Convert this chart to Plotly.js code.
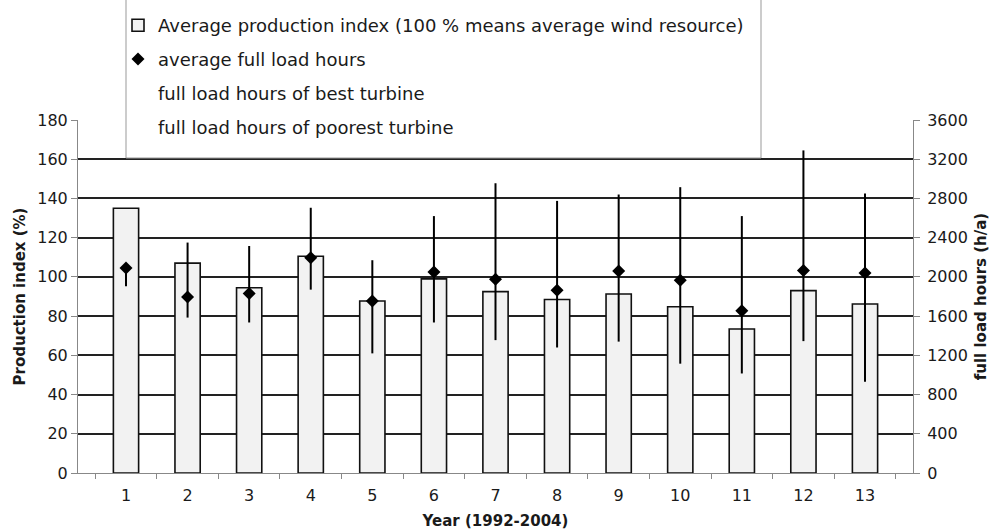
<!DOCTYPE html>
<html>
<head>
<meta charset="utf-8">
<script src="https://cdn.plot.ly/plotly-3.0.1.min.js"></script>
<style>html,body{margin:0;padding:0;background:#fff;}#chart{width:994px;height:530px;}</style>
</head>
<body>
<div id="chart"></div>
<script>
// Years 1..13 (1992-2004)
var years = ['1','2','3','4','5','6','7','8','9','10','11','12','13'];
// Average production index (%)
var productionIndex = [135, 107, 94.5, 110.5, 87.7, 99, 92.5, 88.5, 91.3, 84.8, 73.4, 93, 86.2];
// Average full load hours (h/a)
var avgFullLoad = [2090, 1795, 1830, 2195, 1755, 2050, 1975, 1865, 2060, 1965, 1655, 2065, 2040];
// Full load hours of best turbine (h/a)
var bestTurbine = [2130, 2350, 2315, 2705, 2170, 2620, 2955, 2775, 2840, 2915, 2620, 3290, 2850];
// Full load hours of poorest turbine (h/a)
var poorestTurbine = [1905, 1585, 1535, 1870, 1220, 1535, 1355, 1280, 1340, 1115, 1015, 1345, 930];

var errPlus = bestTurbine.map(function(b, i){ return b - avgFullLoad[i]; });
var errMinus = poorestTurbine.map(function(p, i){ return avgFullLoad[i] - p; });

var FONT = 'DejaVu Sans, Liberation Sans, Arial, sans-serif';
var TXT = '#1a1a1a';

var traces = [
  {
    type: 'bar', x: years, y: productionIndex, width: 0.41,
    name: 'Average production index (100 % means average wind resource)',
    legendgroup: 'g1',
    marker: {color: '#f2f2f2', line: {color: '#111', width: 1.6}}
  },
  {
    type: 'scatter', mode: 'markers', x: years, y: avgFullLoad, yaxis: 'y2',
    name: 'average full load hours', legendgroup: 'g2',
    marker: {symbol: 'diamond', size: 10, color: '#000'},
    error_y: {type: 'data', symmetric: false, array: errPlus, arrayminus: errMinus,
              color: '#000', thickness: 2, width: 0}
  },
  {
    type: 'scatter', mode: 'markers', x: years, y: bestTurbine, yaxis: 'y2',
    name: 'full load hours of best turbine', legendgroup: 'g3',
    marker: {size: 1, color: 'rgba(0,0,0,0)'}
  },
  {
    type: 'scatter', mode: 'markers', x: years, y: poorestTurbine, yaxis: 'y2',
    name: 'full load hours of poorest turbine', legendgroup: 'g4',
    marker: {size: 1, color: 'rgba(0,0,0,0)'}
  }
];

var plotL = 78, plotR = 913, plotT = 120, plotB = 473;
function px(x){ return (x - plotL) / (plotR - plotL); }
function py(y){ return (plotB - y) / (plotB - plotT); }

var layout = {
  width: 994, height: 530,
  margin: {l: 78, r: 81, t: 120, b: 57, pad: 0, autoexpand: false},
  paper_bgcolor: '#fff', plot_bgcolor: '#fff',
  font: {family: FONT, color: TXT, size: 16},
  hovermode: false,
  xaxis: {
    type: 'category', tickson: 'boundaries', ticks: 'outside', ticklen: 5,
    tickcolor: '#888', showline: true, linecolor: '#888', linewidth: 1,
    showgrid: false, zeroline: false, ticklabelstandoff: 8,
    tickfont: {family: FONT, size: 16, color: TXT},
    title: {text: '<b>Year (1992-2004)</b>', font: {family: FONT, size: 15, color: TXT}, standoff: 12}
  },
  yaxis: {
    range: [0, 180], dtick: 20, tick0: 0, showgrid: true, gridcolor: '#222', gridwidth: 2,
    showline: true, linecolor: '#888', linewidth: 1, ticks: 'outside', ticklen: 6, tickcolor: '#888',
    zeroline: false, tickfont: {family: FONT, size: 16, color: TXT},
    title: {text: '<b>Production index (%)</b>', font: {family: FONT, size: 15, color: TXT}, standoff: 8}
  },
  yaxis2: {
    overlaying: 'y', side: 'right', range: [0, 3600], dtick: 400, tick0: 0,
    showgrid: false, showline: true, linecolor: '#888', linewidth: 1, ticks: 'outside', ticklen: 6,
    tickcolor: '#888', zeroline: false, ticklabelstandoff: 4,
    tickfont: {family: FONT, size: 16, color: TXT},
    title: {text: '<b>full load hours (h/a)</b>', font: {family: FONT, size: 15, color: TXT}, standoff: 8}
  },
  legend: {
    x: px(118), y: py(7), xanchor: 'left', yanchor: 'top',
    bgcolor: 'rgba(0,0,0,0)', borderwidth: 0,
    font: {family: FONT, size: 18, color: TXT},
    tracegroupgap: 7.5, itemwidth: 30
  },
  shapes: [{
    type: 'rect', xref: 'paper', yref: 'paper', layer: 'above',
    x0: px(126), x1: px(761), y0: py(158), y1: py(-20),
    fillcolor: '#fff', line: {color: '#999', width: 1}
  }]
};

Plotly.newPlot('chart', traces, layout, {displayModeBar: false, staticPlot: true});
</script>
</body>
</html>
